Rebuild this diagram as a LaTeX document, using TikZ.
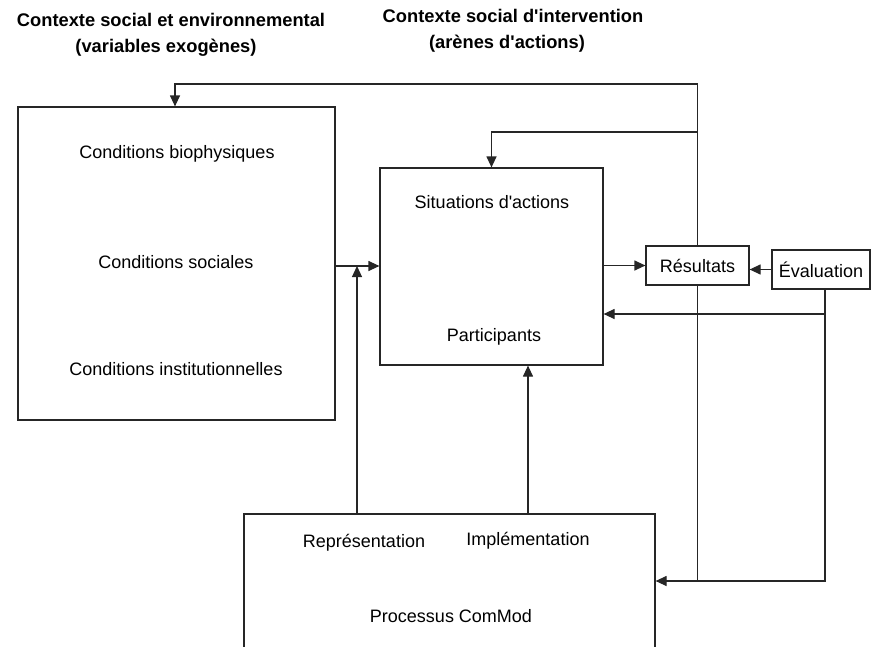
\documentclass[tikz,border=0pt]{standalone}
\usepackage{fontspec}
\setmainfont{Liberation Sans}[Ligatures=TeXOff]
\usetikzlibrary{arrows.meta, positioning, calc}

\begin{document}
\begin{tikzpicture}[
    x=1pt, y=-1pt,
    % Styles for boxes, labels and connectors
    box/.style={rectangle, draw=black!85, line width=1.2pt, inner sep=0pt},
    lbl/.style={font=\fontsize{18}{21}\selectfont, inner sep=0pt},
    title/.style={font=\fontsize{18.3}{21}\selectfont\bfseries, inner sep=0pt},
    line/.style={draw=black!85, line width=1.2pt},
    arr/.style={line, -{Triangle[length=11pt, width=10pt]}}
]
    \useasboundingbox (0,0) rectangle (871,646);

    % --- TITLES ---
    \node [title] (t_exo) at (171,20) {Contexte social et environnemental};
    \node [title] (t_exo2) at (166,48) {(variables exogènes)};
    \node [title] (t_int) at (513,16) {Contexte social d'intervention};
    \node [title] (t_int2) at (507,44) {(arènes d'actions)};

    % --- BOXES ---
    \node [box, minimum width=317pt, minimum height=313pt] (context) at (176.5,263.5) {};
    \node [box, minimum width=223pt, minimum height=197pt] (arena) at (491.5,266.5) {};
    \node [box, minimum width=411pt, minimum height=170pt] (commod) at (449.5,599) {};
    \node [box, minimum width=103pt, minimum height=39pt] (results) at (697.5,265.5) {};
    \node [box, minimum width=98pt, minimum height=39pt] (evaluation) at (821,269.5) {};

    % --- TEXTS ---
    \node [lbl] (biophys) at (177,154) {Conditions biophysiques};
    \node [lbl] (social) at (176,262) {Conditions sociales};
    \node [lbl] (instit) at (176,369) {Conditions institutionnelles};
    \node [lbl] (situations) at (492,202) {Situations d'actions};
    \node [lbl] (participants) at (494,337) {Participants};
    \node [lbl] (repres) at (364,543) {Représentation};
    \node [lbl] (implem) at (528,541) {Implémentation};
    \node [lbl] (process) at (451,616) {Processus ComMod};
    \node [lbl] at (results) {Résultats};
    \node [lbl] at (evaluation) {Évaluation};

    % --- JUNCTIONS ---
    \coordinate (join_left) at (357,266);
    \coordinate (top_loop) at (697,84);
    \coordinate (arena_loop) at (697,132);
    \coordinate (eval_bot) at (825,581);
    \coordinate (eval_side) at (825,314);

    % --- CONNECTIONS ---
    \draw [arr] (context.east |- join_left) -- (arena.west |- join_left);
    \draw [arr] (commod.north -| join_left) -- (join_left);
    \draw [arr] (commod.north -| implem) -- (arena.south -| implem);
    \draw [arr] (arena.east |- results.west) -- (results.west);
    \draw [arr] (evaluation.west) -- (results.east |- evaluation.west);

    % feedback loops
    \draw [arr] (results.north) |- (top_loop -| 175,0) -- (context.north -| 175,0);
    \draw [arr] (arena_loop) -| (arena.north);
    \draw [line] (results.south) -- (results.south |- eval_bot);
    \draw [arr] (evaluation.south -| eval_bot) -- (eval_bot) -- (commod.east |- eval_bot);
    \draw [arr] (eval_side) -- (arena.east |- eval_side);

\end{tikzpicture}
\end{document}
